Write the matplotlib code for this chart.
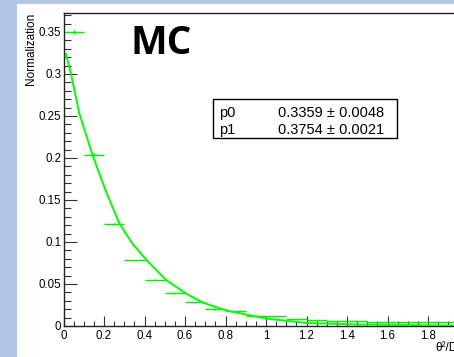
import matplotlib
matplotlib.use("Agg")
import matplotlib.pyplot as plt
from matplotlib.patches import Rectangle
from matplotlib.ticker import MultipleLocator, FuncFormatter

plt.rcParams['font.family'] = ['Liberation Sans', 'DejaVu Sans']

# MC histogram (bin centres, contents)
bin_x = [0.05, 0.15, 0.25, 0.35, 0.45, 0.55, 0.65, 0.75, 0.85, 0.95,
         1.05, 1.15, 1.25, 1.35, 1.45, 1.55, 1.65, 1.75, 1.85, 1.95]
bin_y = [0.350, 0.204, 0.122, 0.078, 0.055, 0.039, 0.028, 0.020, 0.0175, 0.0125,
         0.0115, 0.0085, 0.0068, 0.0060, 0.0056, 0.0050, 0.0047, 0.0045, 0.0044, 0.0042]
bin_ye = [0.002, 0.0015, 0.0012, 0.001, 0.0008, 0.0007, 0.0006, 0.0005, 0.0005, 0.0004,
          0.0004, 0.0004, 0.0003, 0.0003, 0.0003, 0.0003, 0.0003, 0.0003, 0.0003, 0.0003]

# fitted curve
fit_x = [0.012, 0.037, 0.078, 0.144, 0.21, 0.276, 0.34, 0.412, 0.506, 0.605,
         0.687, 0.8, 1.0, 1.2, 1.41, 1.9, 2.0]
fit_y = [0.324, 0.300, 0.253, 0.203, 0.160, 0.122, 0.098, 0.078, 0.0548, 0.0386,
         0.0279, 0.0187, 0.0088, 0.0036, 0.0020, 0.0005, 0.0004]

par_names = ["p0", "p1"]
par_vals = ["0.3359", "0.3754"]
par_errs = ["0.0048", "0.0021"]

W, H = 454, 357
fig = plt.figure(figsize=(W / 100, H / 100), dpi=100)
fig.patch.set_facecolor('#b3c5e6')
fig.patches.append(Rectangle((17 / W, 0), 1, (H - 4) / H, transform=fig.transFigure,
                             facecolor='white', edgecolor='none', zorder=-10))

ax = fig.add_axes([63.5 / W, 31 / H, 405 / W, 313 / H])
ax.set_xlim(0, 2)
ax.set_ylim(0, 313 / 840)

ax.plot(fit_x, fit_y, color='#00ff00', lw=1.4, zorder=3)
ax.errorbar(bin_x, bin_y, xerr=0.05, yerr=bin_ye, fmt='none', ecolor='#00ee00',
            elinewidth=1.0, capsize=0, zorder=2)

ax.spines['right'].set_visible(False)
for s in ['left', 'bottom', 'top']:
    ax.spines[s].set_color('#222222')
    ax.spines[s].set_linewidth(1.0)

ax.xaxis.set_major_locator(MultipleLocator(0.2))
ax.xaxis.set_minor_locator(MultipleLocator(0.05))
ax.yaxis.set_major_locator(MultipleLocator(0.05))
ax.yaxis.set_minor_locator(MultipleLocator(0.01))
ax.xaxis.set_major_formatter(FuncFormatter(lambda v, p: '' if v > 1.9 else '%g' % round(v, 4)))
ax.yaxis.set_major_formatter(FuncFormatter(lambda v, p: '%g' % round(v, 4)))

ax.tick_params(axis='both', which='both', direction='in', colors='#333333',
               labelcolor='black', labelsize=8.3, width=0.8)
ax.tick_params(axis='y', which='major', length=9.5, pad=1.5)
ax.tick_params(axis='y', which='minor', length=5.2)
ax.tick_params(axis='x', which='major', length=7.2, pad=3)
ax.tick_params(axis='x', which='minor', length=3.6)

fig.text(31 / W, 1 - 13 / H, "Normalization", rotation=90, ha='center', va='top', fontsize=8.5)
fig.text(435 / W, 1 - 348 / H, "θ²/Deg²", ha='left', va='center', fontsize=8.5)

fig.text(131 / W, 1 - 43 / H, "MC", ha='left', va='center', fontsize=28,
         fontweight='bold', family=['Open Sans', 'DejaVu Sans'])

# fit parameter box
fig.patches.append(Rectangle((213 / W, 1 - 138.5 / H), 183.5 / W, 39.5 / H,
                             transform=fig.transFigure, facecolor='white',
                             edgecolor='black', lw=1.0, zorder=5))
rows_y = [113, 129.5]
for i in range(2):
    fig.text(219 / W, 1 - rows_y[i] / H, par_names[i], ha='left', va='center',
             fontsize=10.5, zorder=6)
    fig.text(384 / W, 1 - rows_y[i] / H, par_vals[i] + " ± " + par_errs[i],
             ha='right', va='center', fontsize=10.5, zorder=6)

fig.savefig("out.png", dpi=100, facecolor=fig.get_facecolor())
